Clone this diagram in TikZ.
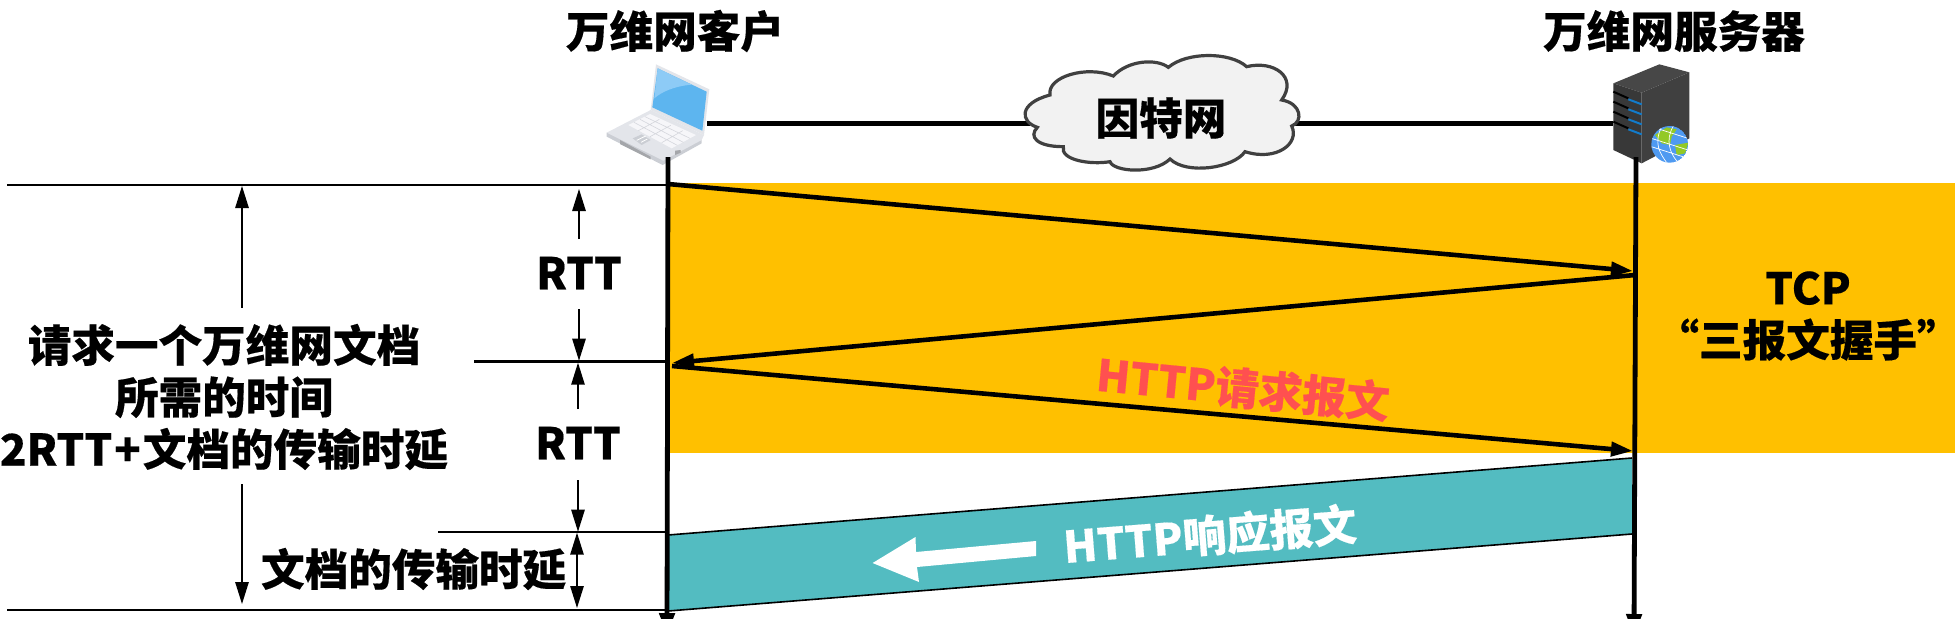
\documentclass[tikz,border=0pt]{standalone}
\usepackage{fontspec}
\setmainfont{Noto Sans CJK SC}[BoldFeatures={FakeBold=0.35}]
\usetikzlibrary{arrows.meta}
\definecolor{handshake}{HTML}{FFC000}
\definecolor{teal}{HTML}{53BCC1}
\definecolor{reqred}{HTML}{FF5050}
\definecolor{cloudfill}{HTML}{F2F2F2}
\definecolor{cloudline}{HTML}{404040}
\definecolor{lapscreen}{HTML}{5DB5EF}
\definecolor{lapshine}{HTML}{8DCBF6}
\definecolor{lapbody}{HTML}{E3E5EA}
\definecolor{lapedge}{HTML}{CBCED4}
\definecolor{lapkeys}{HTML}{F6F6F9}
\definecolor{lapkeyline}{HTML}{D4D6DC}
\definecolor{lapdark}{HTML}{A4A6AA}
\tikzset{
  lbl/.style={inner sep=0pt,font=\fontsize{21.8}{26}\selectfont\bfseries,text=black},
  timeline/.style={line width=2.4pt,-{Triangle[length=11pt,width=7.5pt]}},
  msg/.style={line width=2.3pt,-{Triangle[length=11pt,width=7pt]}},
  span/.style={line width=.75pt,-{Triangle[length=11pt,width=6.7pt]}},
  spanboth/.style={line width=.75pt,{Triangle[length=11pt,width=6.7pt]}-{Triangle[length=11pt,width=6.7pt]}},
  rule/.style={line width=1.2pt},
  link/.style={line width=2.5pt},
  iconscope/.style={x=0.16667pt,y=-0.16667pt},
}
\begin{document}
\begin{tikzpicture}[x=0.5pt,y=-0.5pt]
\useasboundingbox (0,0) rectangle (1955,618);
% key positions
\coordinate (cTop) at (668,157);
\coordinate (cEnd) at (667,635);
\coordinate (sTop) at (1636,157);
\coordinate (sEnd) at (1634,636);
\coordinate (laptopE) at (707,123.5);
\coordinate (serverW) at (1613,123.5);
\coordinate (cloudW) at (1030,123.5);
\coordinate (cloudE) at (1292,123.5);
% yellow band
\fill[handshake] (668,183) rectangle (1955,453);
% teal band
\coordinate (tlT) at (668,535); \coordinate (trT) at (1632,458);
\coordinate (tlB) at (668,611); \coordinate (trB) at (1632,534);
\fill[teal] (tlT) -- (trT) -- (trB) -- (tlB) -- cycle;
\draw[line width=.8pt] (tlT) -- (trT);
\draw[line width=.8pt] (tlB) -- (trB);
% white arrow
\fill[white] (872.6,563) -- (915.5,537) -- (916,552) -- (1036,541) -- (1036,556) -- (917,567) -- (919,582) -- cycle;
% links
\draw[link] (laptopE) -- (cloudW);
\draw[link] (cloudE) -- (serverW);
% laptop
\begin{scope}[shift={(560,0)},iconscope]
  \fill[lapedge] (140,398) -- (140,410) -- (308,495) -- (425,430) -- (425,418) -- cycle;
  \fill[lapbody] (272,330) -- (432,405) -- (425,420) -- (310,482) -- (140,398) -- cycle;
  \fill[lapbody] (288,193) -- (448,268) -- (432,405) -- (272,330) -- cycle;
  \fill[lapscreen] (293,205) -- (440,275) -- (427,392) -- (277,322) -- cycle;
  \fill[lapshine] (293,205) -- (395,254) .. controls (345,258) and (305,275) .. (283,295) -- cycle;
  \fill[lapkeys] (205,375) -- (270,342) -- (408,405) -- (335,445) -- cycle;
  \draw[lapkeyline,line width=.3pt] (222,367) -- (352,436) (240,358) -- (370,427) (255,350) -- (390,415)
    (235,392) -- (298,358) (270,410) -- (332,376) (305,428) -- (368,392);
  \fill[lapedge] (218,415) -- (245,403) -- (272,420) -- (245,435) -- cycle;
  \draw[white,line width=.4pt] (230,421) -- (257,408) (243,427) -- (262,417);
  \fill[lapdark] (180,420) -- (272,470) -- (272,478) -- (180,432) -- cycle;
  \fill[lapdark] (345,452) -- (362,450) -- (362,458) -- (345,465) -- cycle;
\end{scope}
% server
\begin{scope}[shift={(1560,40)},iconscope]
  \fill[black!72] (160,130) -- (298,73) -- (388,97) -- (245,158) -- cycle;
  \fill[black!78] (160,130) -- (245,158) -- (245,370) -- (160,330) -- cycle;
  \fill[black!75] (245,158) -- (388,97) -- (388,295) -- (245,370) -- cycle;
  \foreach \d in {0,30,60,90}{
    \draw[black,line width=1pt] (160,{155+\d}) -- (205,{175+\d});
    \draw[cyan!60!blue,line width=1pt] (205,{178+\d}) -- (245,{193+\d});
  }
  \begin{scope}
    \clip (329,313) circle (55);
    \fill[lapscreen!85!blue] (329,313) circle (55);
    \fill[green!50!black!50!yellow!85!white] (285,285) -- (320,262) -- (350,268) -- (335,290) -- (330,315) -- (305,310) -- cycle;
    \fill[green!50!black!50!yellow!85!white] (345,315) -- (385,308) -- (375,340) -- (350,345) -- cycle;
    \draw[white,line width=.35pt] (274,295) -- (384,330) (274,320) -- (384,355) (290,265) -- (384,295) (305,260) .. controls (280,310) and (300,340) .. (320,368) (340,258) .. controls (315,300) and (330,340) .. (352,365);
  \end{scope}
\end{scope}
% cloud
\begin{scope}[shift={(1000,50)},iconscope]
  \draw[fill=cloudfill,draw=cloudline,line width=1.6pt]
    (112,232) .. controls (60,215) and (55,160) .. (150,135)
    .. controls (140,80) and (260,45) .. (340,78)
    .. controls (385,30) and (470,25) .. (505,52)
    .. controls (560,5) and (690,5) .. (740,50)
    .. controls (820,30) and (895,80) .. (845,150)
    .. controls (905,160) and (910,215) .. (875,228)
    .. controls (900,280) and (830,335) .. (735,305)
    .. controls (700,355) and (560,375) .. (510,327)
    .. controls (460,375) and (340,365) .. (330,335)
    .. controls (270,345) and (180,330) .. (190,290)
    .. controls (110,290) and (85,260) .. (112,232) -- cycle;
\end{scope}
\node[lbl] (net) at (1161,118) {因特网};
% titles
\node[lbl] (client) at (675,31) {万维网客户};
\node[lbl] (server) at (1674,31) {万维网服务器};
% rules
\coordinate (l0a) at (7,184.7); \coordinate (l0b) at (668,184.7);
\coordinate (l1a) at (474,361.3); \coordinate (l1b) at (666,361.3);
\coordinate (l2a) at (438,531.7); \coordinate (l2b) at (666,531.7);
\coordinate (l3a) at (7,609.7); \coordinate (l3b) at (666,609.7);
\draw[rule] (l0a) -- (l0b);
\draw[rule] (l1a) -- (l1b);
\draw[rule] (l2a) -- (l2b);
\draw[rule] (l3a) -- (l3b);
% timelines
\draw[timeline] (cTop) -- (cEnd);
\draw[timeline] (sTop) -- (sEnd);
% messages
\coordinate (m0) at (668,184); \coordinate (m1) at (1633,271);
\coordinate (m2) at (1635,275); \coordinate (m3) at (672,363);
\coordinate (m4) at (672,366); \coordinate (m5) at (1633,451);
\draw[msg] (m0) -- (m1);
\draw[msg] (m2) -- (m3);
\draw[msg] (m4) -- (m5);
% labels
\node[lbl] (rtt1) at (579,273) {RTT};
\node[lbl] (rtt2) at (578,443) {RTT};
\node[lbl,align=center] (total) at (224,397) {请求一个万维网文档\\所需的时间\\2RTT\kern1pt+\kern1pt文档的传输时延};
\node[lbl] (trans) at (413.6,569) {文档的传输时延};
\node[lbl,align=center] (tcp) at (1808,316) {TCP\\“三报文握手”};
\node[lbl,text=reqred,rotate=-5.5] (req) at (1243,388) {HTTP请求报文};
\node[lbl,text=white,rotate=4.5] (resp) at (1210,535) {HTTP响应报文};
% spans
\coordinate (a0) at (242,307.7); \coordinate (a0t) at (242,186);
\coordinate (a1) at (242,484); \coordinate (a1t) at (242,604);
\draw[span] (a0) -- (a0t);
\draw[span] (a1) -- (a1t);
\coordinate (b0) at (579,239); \coordinate (b0t) at (579,189);
\coordinate (b1) at (579,309); \coordinate (b1t) at (579,360.7);
\draw[span] (b0) -- (b0t);
\draw[span] (b1) -- (b1t);
\coordinate (c0) at (578,409); \coordinate (c0t) at (578,362.7);
\coordinate (c1) at (578,480); \coordinate (c1t) at (578,531.7);
\draw[span] (c0) -- (c0t);
\draw[span] (c1) -- (c1t);
\coordinate (d0) at (577,532.7); \coordinate (d1) at (577,608);
\draw[spanboth] (d0) -- (d1);
\end{tikzpicture}
\end{document}
